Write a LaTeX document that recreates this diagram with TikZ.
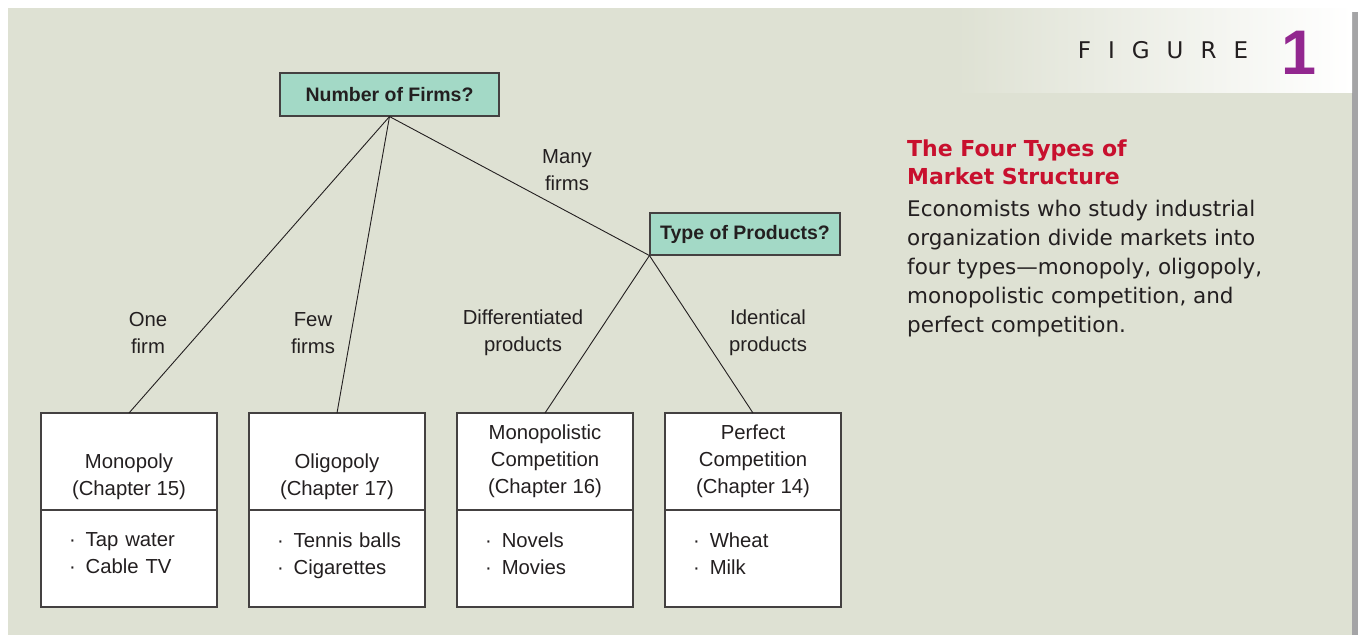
\documentclass[tikz,border=0pt]{standalone}
\usepackage{fontspec}
\setmainfont{Liberation Sans}
\newfontfamily\sidefont{DejaVu Sans}
\usetikzlibrary{positioning,calc}
\definecolor{panel}{HTML}{DEE1D3}
\definecolor{qfill}{HTML}{A3D9C6}
\definecolor{titlered}{HTML}{C8102E}
\definecolor{figpurple}{HTML}{92278F}
\definecolor{ink}{HTML}{231F20}
\definecolor{shadow}{HTML}{A4A4A6}
\tikzset{
  qbox/.style={draw=ink!85, fill=qfill, line width=1.1pt, minimum height=43pt, text=ink, font=\fontsize{19.5}{23}\selectfont\bfseries},
  topbox/.style={draw=ink!85, fill=white, line width=1.1pt, outer sep=0pt, minimum width=176pt, minimum height=97pt, align=center, text=ink, font=\fontsize{20.3}{27}\selectfont},
  exbox/.style={topbox, align=left, text width=160pt, inner xsep=8pt},
  lbl/.style={align=center, text=ink, font=\fontsize{20.3}{27}\selectfont},
  conn/.style={draw=ink, line width=0.9pt},
}
\newcommand{\itm}{\hspace*{20pt}\textperiodcentered\hspace{10pt}}
\newcommand{\exlist}[2]{\itm #1\\\itm #2\\[-17pt]\mbox{}}

\begin{document}
\begin{tikzpicture}[x=1pt, y=-1pt, node distance=32pt]

\useasboundingbox (0,0) rectangle (1358,635);
\fill[white] (0,0) rectangle (1358,635);
\fill[shadow] (1352,12) rectangle (1358,635);
\fill[panel] (8,8) rectangle (1352,635);
\shade[left color=panel, right color=white] (955,8) rectangle (1352,92);

\node[text=ink, font=\sidefont\fontsize{23}{23}\selectfont] (figword) at (1163,50)
  {F\hspace{17pt}I\hspace{17pt}G\hspace{17pt}U\hspace{17pt}R\hspace{17pt}E};
\node[text=figpurple, font=\fontsize{63}{63}\selectfont\bfseries] (fignum) at (1299,53) {1};

\node[qbox, minimum width=219pt] (firms) at (389.5,94.5) {Number of Firms?};
\node[qbox, minimum width=190pt, minimum height=42pt] (prods) at (745,234) {Type of Products?};

\node[topbox] (mono) at (129,461.5) {\strut\\Monopoly\\(Chapter 15)};
\node[topbox, right=of mono] (olig) {\strut\\Oligopoly\\(Chapter 17)};
\node[topbox, right=of olig] (mcomp) {Monopolistic\\Competition\\(Chapter 16)};
\node[topbox, right=of mcomp] (perf) {Perfect\\Competition\\(Chapter 14)};

\node[exbox, below=0pt of mono] (monoex) {\exlist{Tap water}{Cable TV}};
\node[exbox, below=0pt of olig] (oligex) {\exlist{Tennis balls}{Cigarettes}};
\node[exbox, below=0pt of mcomp] (mcompex) {\exlist{Novels}{Movies}};
\node[exbox, below=0pt of perf] (perfex) {\exlist{Wheat}{Milk}};

\node[lbl] (lone) at (148,333) {One\\firm};
\node[lbl] (lfew) at (313,333) {Few\\firms};
\node[lbl] (lmany) at (567,170) {Many\\firms};
\node[lbl] (ldiff) at (523,333) {Differentiated\\products};
\node[lbl] (liden) at (768,333) {Identical\\products};

\node[anchor=north west, inner sep=0pt, align=left, text=titlered, font=\sidefont\bfseries\fontsize{22}{28}\selectfont] (title) at (907,140)
  {The Four Types of\\Market Structure};
\node[anchor=north west, inner sep=0pt, align=left, text=ink, font=\sidefont\fontsize{21.5}{29}\selectfont] (caption) at (907,200)
  {Economists who study industrial\\organization divide markets into\\four types—monopoly, oligopoly,\\monopolistic competition, and\\perfect competition.};

\draw[conn] (firms.south) -- (mono.north);
\draw[conn] (firms.south) -- (olig.north);
\draw[conn] (firms.south) -- (prods.south west);
\draw[conn] (prods.south west) -- (mcomp.north);
\draw[conn] (prods.south west) -- (perf.north);

\end{tikzpicture}
\end{document}
